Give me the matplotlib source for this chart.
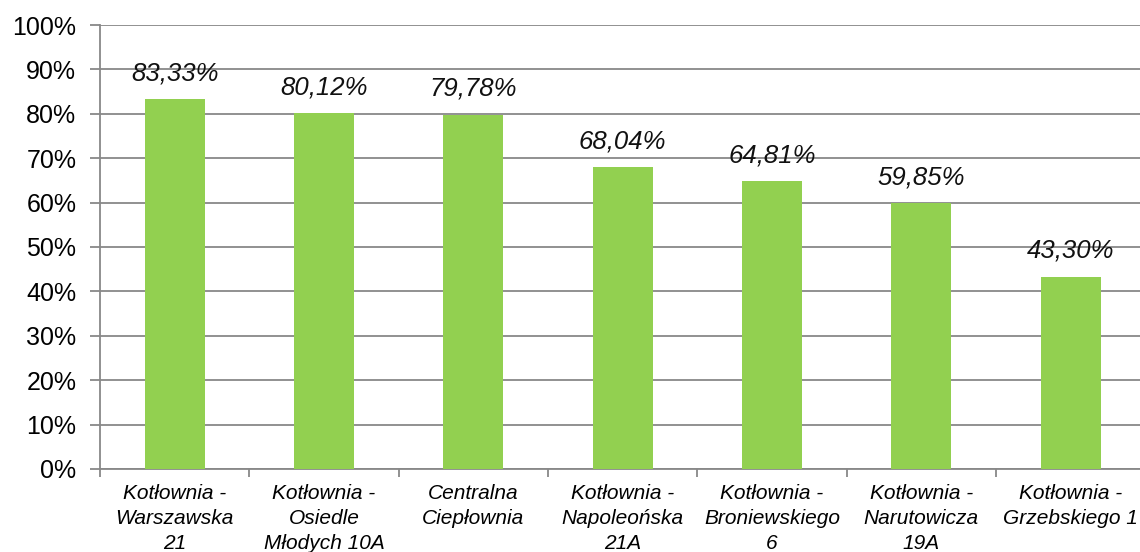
import matplotlib
matplotlib.use("Agg")
import matplotlib.pyplot as plt
from matplotlib.ticker import FixedLocator, PercentFormatter

plt.rcParams['font.family'] = ['Liberation Sans', 'DejaVu Sans']

categories = [
    "Kotłownia -\nWarszawska\n21",
    "Kotłownia -\nOsiedle\nMłodych 10A",
    "Centralna\nCiepłownia",
    "Kotłownia -\nNapoleońska\n21A",
    "Kotłownia -\nBroniewskiego\n6",
    "Kotłownia -\nNarutowicza\n19A",
    "Kotłownia -\nGrzebskiego 1",
]
values = [83.33, 80.12, 79.78, 68.04, 64.81, 59.85, 43.30]
yticks = list(range(0, 101, 10))

GREEN = "#92D050"
GRID = "#888888"

fig = plt.figure(figsize=(11.4, 5.52), dpi=100)
ax = fig.add_axes([0.0877, 0.1504, 0.917, 0.8043])

x = list(range(len(categories)))
ax.bar(x, values, width=0.4, color=GREEN, zorder=3)

for xi, v in zip(x, values):
    label = f"{v:.2f}".replace(".", ",") + "%"
    ax.annotate(label, (xi, v), xytext=(0, 10), textcoords="offset points",
                ha="center", va="bottom", fontsize=18.5, style="italic",
                color="#111111")

ax.set_ylim(0, 100)
ax.set_xlim(-0.5, len(categories) - 0.5)
ax.set_yticks(yticks)
ax.yaxis.set_major_formatter(PercentFormatter(decimals=0))
ax.grid(axis="y", color=GRID, linewidth=1.3, zorder=0)

ax.set_xticks(x)
ax.set_xticklabels(categories, fontsize=15, style="italic", linespacing=1.4)
ax.xaxis.set_minor_locator(FixedLocator([i - 0.5 for i in range(len(categories) + 1)]))
ax.tick_params(axis="x", which="major", length=0, pad=11)
ax.tick_params(axis="x", which="minor", length=6, width=1.3, color=GRID)
ax.tick_params(axis="y", length=7, width=1.3, color=GRID, labelsize=18, pad=10)

for s in ("top", "right"):
    ax.spines[s].set_visible(False)
for s in ("left", "bottom"):
    ax.spines[s].set_color(GRID)
    ax.spines[s].set_linewidth(1.3)

fig.savefig("out.png", dpi=100)
